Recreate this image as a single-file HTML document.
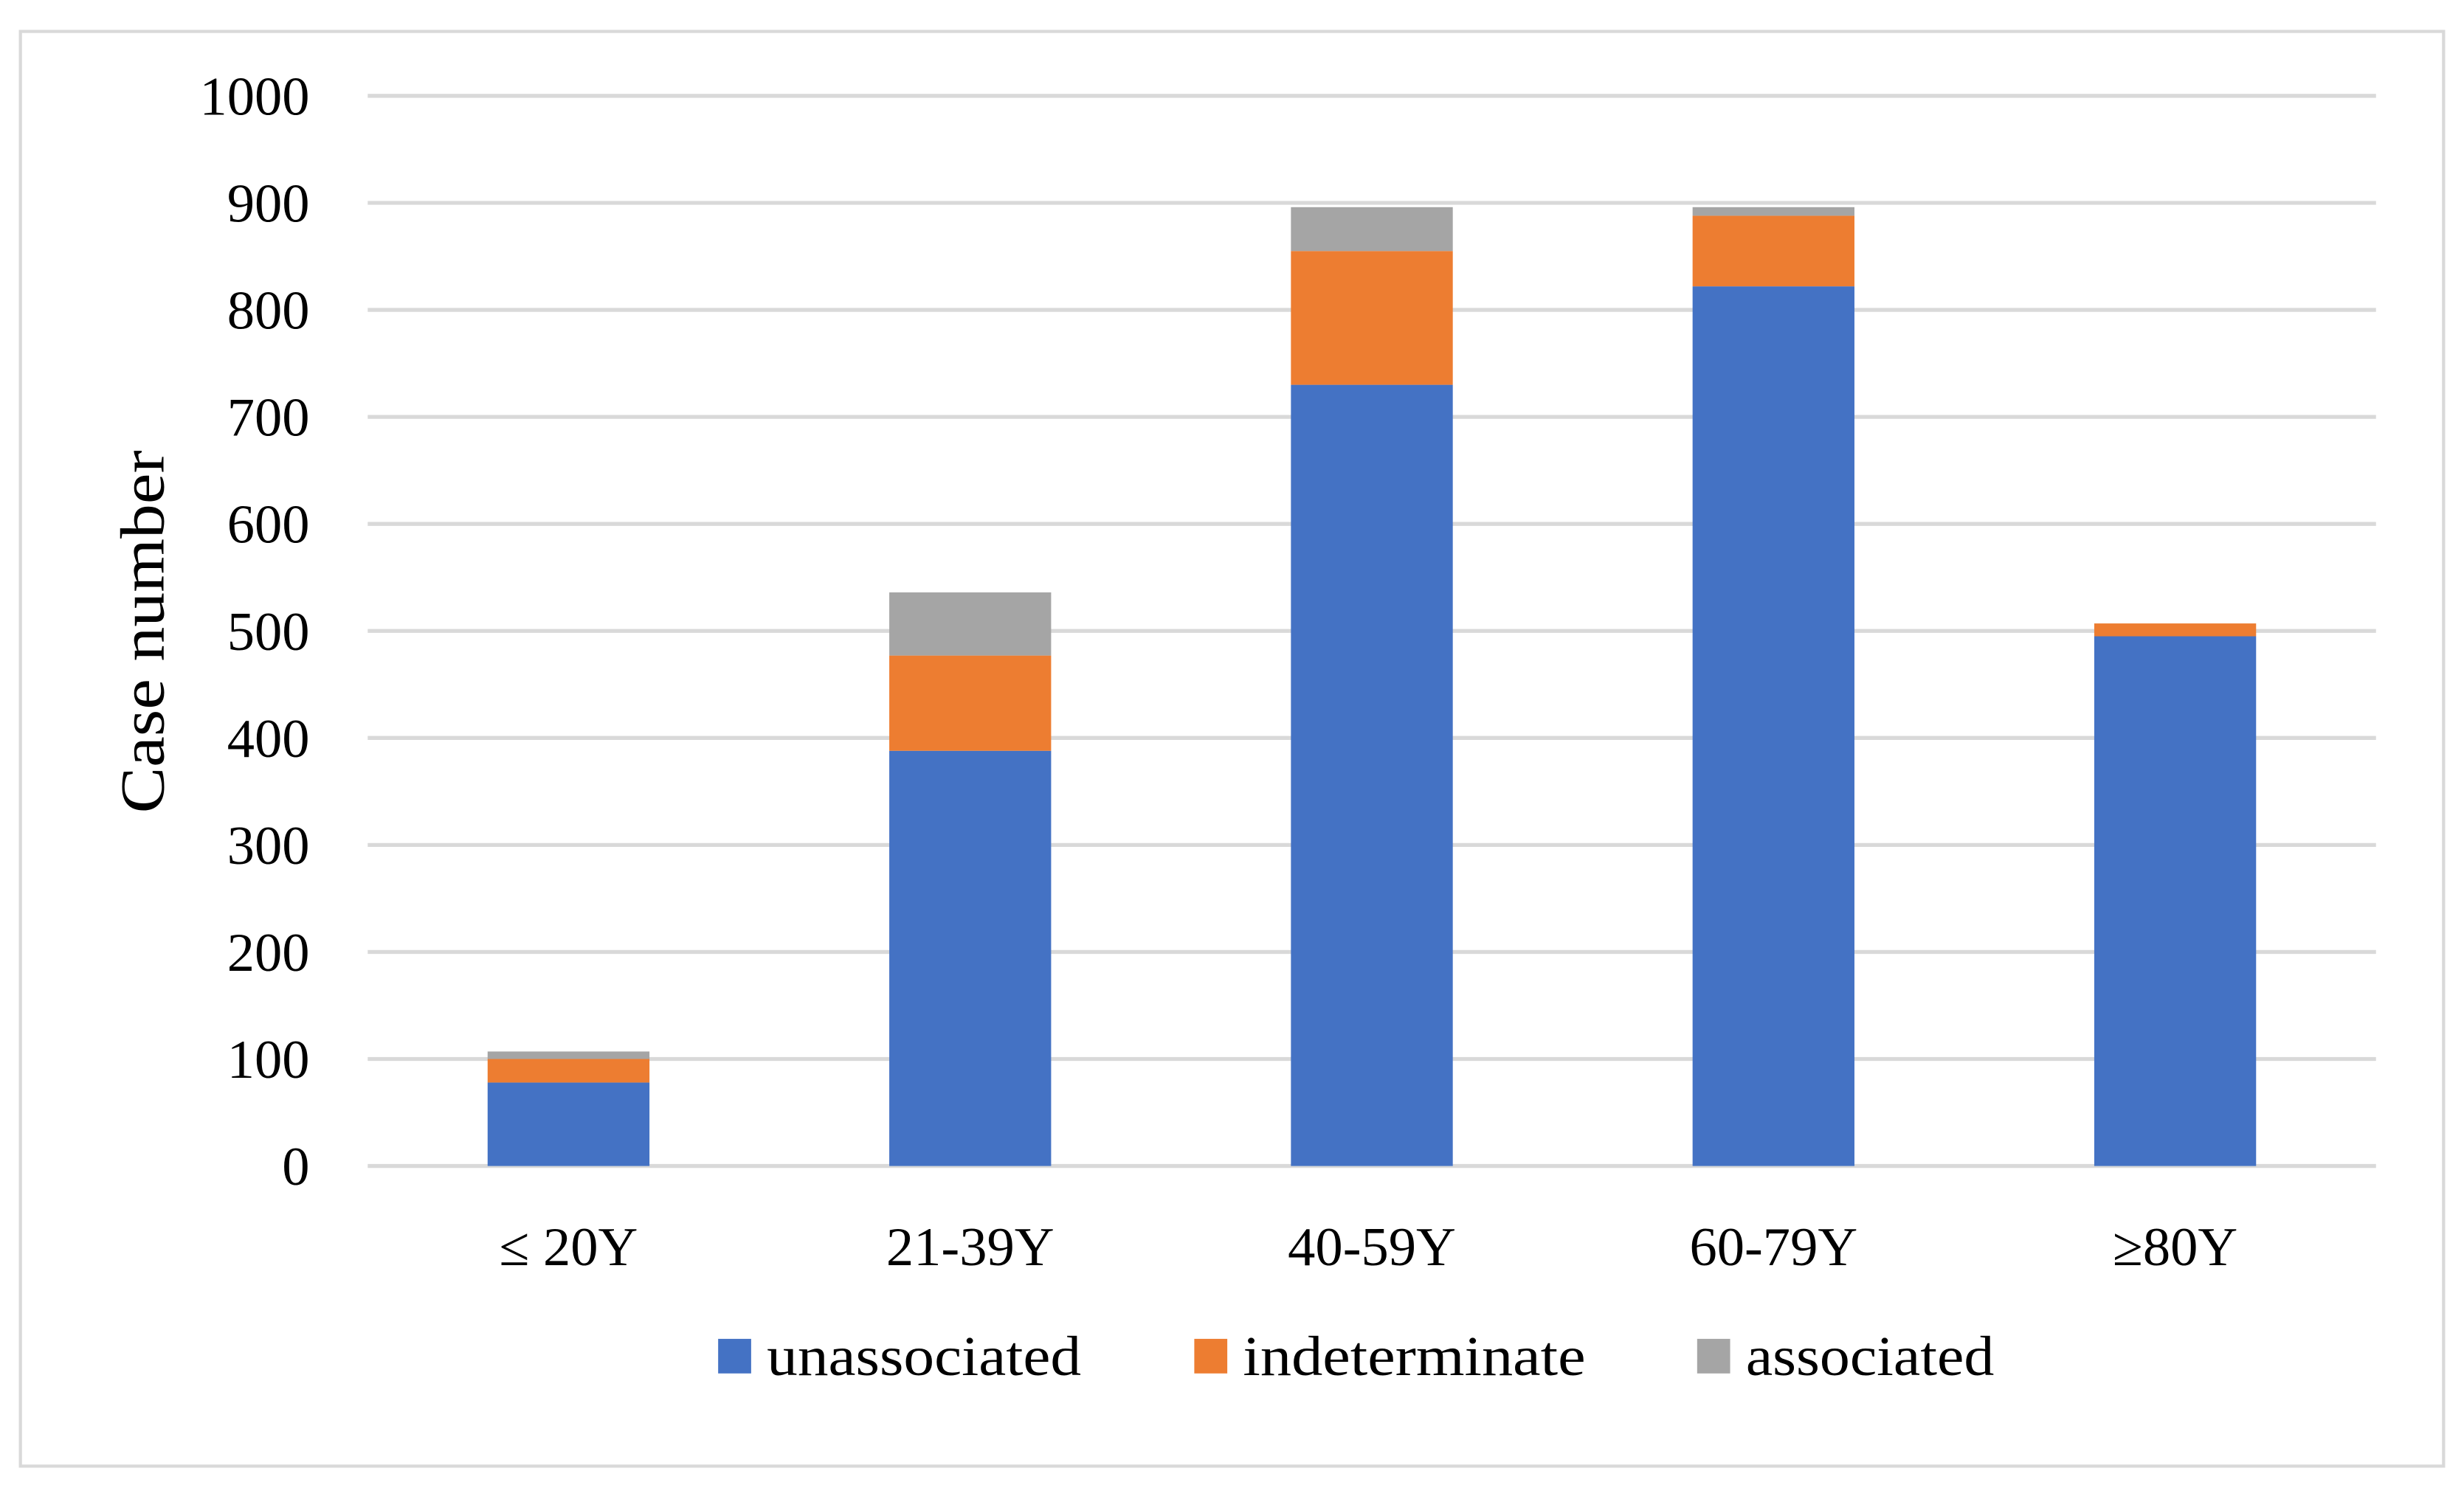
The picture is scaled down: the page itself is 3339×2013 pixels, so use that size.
<!DOCTYPE html>
<html><head><meta charset="utf-8"><style>
html,body{margin:0;padding:0;background:#fff;}
svg{display:block;}
text{font-family:"Liberation Serif",serif;fill:#000;}
</style></head><body>
<svg id="chart" width="3339" height="2013" viewBox="0 0 1568 945" preserveAspectRatio="none" xmlns="http://www.w3.org/2000/svg">
<rect x="13" y="20" width="1542" height="913" fill="#fff" stroke="#d9d9d9" stroke-width="2"/>
<g id="grid"></g>
<g id="bars"></g>
<g id="labels"></g>
<text transform="translate(104,402) rotate(-90)" text-anchor="middle" font-size="40" textLength="231" lengthAdjust="spacingAndGlyphs">Case number</text>
<g id="legend"></g>
</svg>
<script>
const categories = ["≤ 20Y","21-39Y","40-59Y","60-79Y","≥80Y"];
const unassociated = [78,388,730,822,495];
const indeterminate = [22,89,125,66,12];
const associated = [7,59,41,8,0];
const yTicks = [0,100,200,300,400,500,600,700,800,900,1000];
const seriesNames = ["unassociated","indeterminate","associated"];
const colors = ["#4472c4","#ed7d31","#a5a5a5"];

const NS="http://www.w3.org/2000/svg";
const x0=234,x1=1512,yBase=742,yTop=61,yMax=1000;
function y(v){return yBase-(v/yMax)*(yBase-yTop);}
const band=(x1-x0)/categories.length;
function xc(i){return x0+band*(i+0.5);}
const barW=103;
function mk(tag,attrs,parent){const e=document.createElementNS(NS,tag);for(const k in attrs)e.setAttribute(k,attrs[k]);parent.appendChild(e);return e;}
const grid=document.getElementById('grid'),bars=document.getElementById('bars'),labels=document.getElementById('labels'),legend=document.getElementById('legend');
yTicks.forEach(t=>{
  const l=mk('line',{x1:x0,x2:x1,y1:y(t),y2:y(t),stroke:'#d9d9d9','stroke-width':2.5},grid);
  
  
  const tx=mk('text',{x:197,y:y(t)+12,'text-anchor':'end','font-size':35},labels);
  tx.textContent=t;
  
  
});
const series=[unassociated,indeterminate,associated];
categories.forEach((c,i)=>{
  let acc=0;
  series.forEach((s,k)=>{
    const v=s[i];
    if(v>0){
      const r=mk('rect',{x:xc(i)-barW/2,y:y(acc+v),width:barW,height:y(acc)-y(acc+v),fill:colors[k]},bars);
      
      
    }
    acc+=v;
  });
  const tx=mk('text',{x:xc(i),y:805,'text-anchor':'middle','font-size':35},labels);
  tx.textContent=c;
  
  
});
const legX=[457,760,1080];
const legLen=[200,218,158];
seriesNames.forEach((n,k)=>{
  const r=mk('rect',{x:legX[k],y:852,width:21,height:22,fill:colors[k]},legend);
  
  
  const t=mk('text',{x:legX[k]+31,y:875,'font-size':36,textLength:legLen[k],lengthAdjust:'spacingAndGlyphs'},legend);
  t.textContent=n;
  
  
});
</script>
</body></html>
